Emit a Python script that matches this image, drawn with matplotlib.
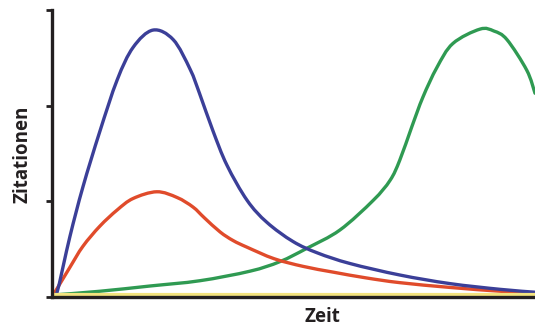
import matplotlib
matplotlib.use("Agg")
import matplotlib.pyplot as plt
from matplotlib.path import Path
from matplotlib.patches import PathPatch

# Data (time in arbitrary units 0..100, citations 0..3)
blue_x = [0, 1.0, 3.7, 6.4, 9.9, 13.5, 16.8, 20.9, 25.1, 28.6, 30.6, 33.3, 36.2, 40.4, 44.5, 49.9, 55.0, 61.7, 72.0, 82.4, 92.8, 100]
blue_y = [0, 0.04, 0.63, 1.15, 1.73, 2.27, 2.61, 2.79, 2.69, 2.38, 2.12, 1.74, 1.38, 1.01, 0.78, 0.58, 0.46, 0.35, 0.23, 0.14, 0.08, 0.05]

red_x = [0, 3.7, 6.4, 9.9, 13.5, 16.8, 21.7, 25.9, 29.2, 31.5, 34.8, 37.5, 40.4, 46.0, 52.0, 58.2, 65.0, 72.0, 82.4, 92.8, 100]
red_y = [0, 0.31, 0.53, 0.74, 0.91, 1.03, 1.10, 1.04, 0.94, 0.83, 0.68, 0.59, 0.52, 0.40, 0.32, 0.26, 0.20, 0.15, 0.10, 0.06, 0.04]

green_x = [0, 9.9, 20.3, 30.6, 41.0, 47.2, 52.8, 59.6, 66.5, 70.0, 72.0, 74.5, 76.8, 79.7, 83.0, 88.6, 91.5, 94.2, 98.3, 100]
green_y = [0.02, 0.06, 0.115, 0.17, 0.27, 0.37, 0.51, 0.70, 1.01, 1.22, 1.43, 1.78, 2.09, 2.40, 2.65, 2.80, 2.78, 2.69, 2.37, 2.13]

yellow_x = [0, 100]
yellow_y = [0.025, 0.025]

y_ticks = [0, 1, 2, 3]


def smooth_path(xs, ys):
    """Catmull-Rom through the points, rendered as cubic Bezier segments."""
    pts = list(zip(xs, ys))
    verts = [pts[0]]
    codes = [Path.MOVETO]
    n = len(pts)
    for i in range(n - 1):
        p0 = pts[i - 1] if i > 0 else pts[i]
        p1 = pts[i]
        p2 = pts[i + 1]
        p3 = pts[i + 2] if i + 2 < n else pts[i + 1]
        c1 = (p1[0] + (p2[0] - p0[0]) / 6.0, p1[1] + (p2[1] - p0[1]) / 6.0)
        c2 = (p2[0] - (p3[0] - p1[0]) / 6.0, p2[1] - (p3[1] - p1[1]) / 6.0)
        verts += [c1, c2, p2]
        codes += [Path.CURVE4] * 3
    return Path(verts, codes)


fig = plt.figure(figsize=(5.35, 3.27), dpi=100)
ax = fig.add_axes([52/535, 30/327, 483/535, 287/327])

ax.plot(yellow_x, yellow_y, color="#f3e37e", lw=3.0, solid_capstyle="butt")
for xs, ys, col in [(green_x, green_y, "#2f9a52"),
                    (red_x, red_y, "#e04b2b"),
                    (blue_x, blue_y, "#3b3f98")]:
    ax.add_patch(PathPatch(smooth_path(xs, ys), facecolor="none", edgecolor=col,
                           lw=2.4, capstyle="round", joinstyle="round"))

ax.set_xlim(0, 100)
ax.set_ylim(0, 3)
ax.set_yticks(y_ticks)
ax.set_yticklabels([])
ax.set_xticks([])
ax.tick_params(axis="y", direction="out", length=4, width=2, color="#231f20")
for s in ["top", "right"]:
    ax.spines[s].set_visible(False)
for s in ["left", "bottom"]:
    ax.spines[s].set_linewidth(2.4)
    ax.spines[s].set_color("#231f20")
    ax.spines[s].set_zorder(5)

fig.text(322/535, 1 - 317/327, "Zeit", ha="center", va="center",
         fontsize=13.5, fontweight="bold", family="Open Sans", color="#231f20")
fig.text(23/535, 1 - 154/327, "Zitationen", ha="center", va="center", rotation=90,
         fontsize=13.5, fontweight="bold", family="Open Sans", color="#231f20")

fig.savefig("out.png", dpi=100)
